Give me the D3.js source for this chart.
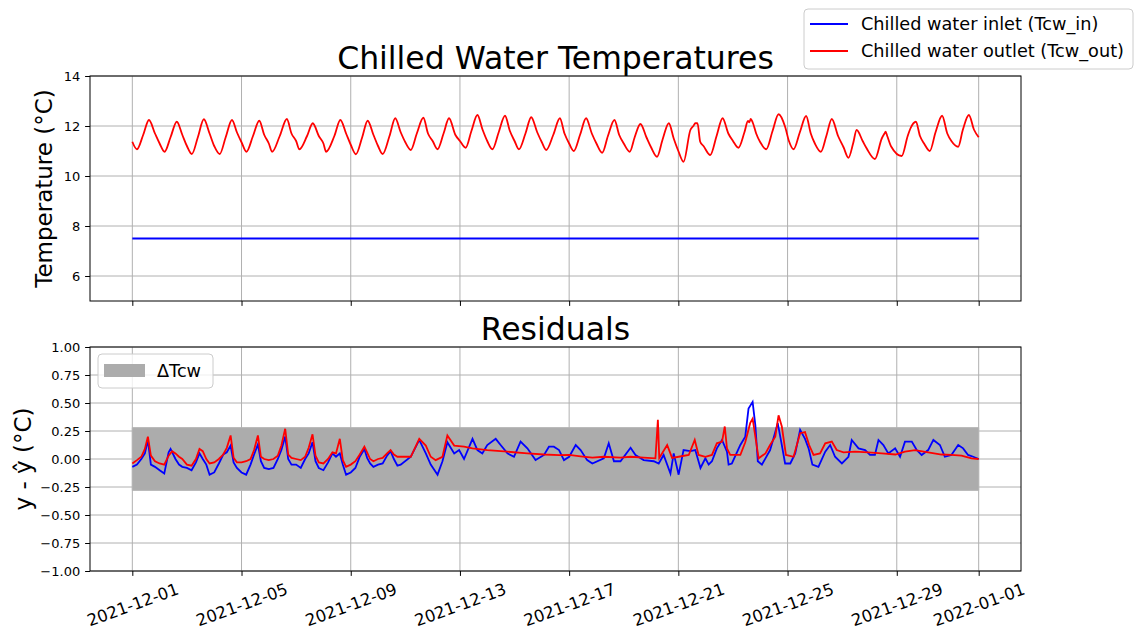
<!DOCTYPE html>
<html><head><meta charset="utf-8">
<script src="https://cdn.jsdelivr.net/npm/d3@7"></script>
<style>body{margin:0;background:#fff;} svg{font-family:"DejaVu Sans",sans-serif;}</style>
</head><body><svg id="c" width="1135" height="630"></svg>
<script>
// ---- data (day offsets from 2021-12-01 00:00 UTC) ----
const tickLabels = ["2021-12-01","2021-12-05","2021-12-09","2021-12-13","2021-12-17","2021-12-21","2021-12-25","2021-12-29","2022-01-01"];
const tempTicks = [6, 8, 10, 12, 14];
const residTicks = [-1, -0.75, -0.5, -0.25, 0, 0.25, 0.5, 0.75, 1];
const deltaTcw = 0.28;
const inletTemps = [[0, 7.5], [31, 7.5]];
const outletTemps = [
[0,11.37],[0.17,11.07],[0.4,11.65],[0.61,12.24],[0.83,11.7],
[1,11.3],[1.18,10.97],[1.4,11.55],[1.63,12.17],[1.83,11.65],
[2,11.2],[2.18,10.88],[2.4,11.55],[2.62,12.27],[2.83,11.7],
[3,11.2],[3.2,10.88],[3.42,11.55],[3.65,12.24],[3.83,11.75],
[4,11.35],[4.18,10.97],[4.42,11.6],[4.65,12.21],[4.83,11.65],
[5,11.3],[5.12,10.97],[5.4,11.6],[5.66,12.28],[5.83,11.7],
[6,11.4],[6.12,11.07],[6.4,11.6],[6.61,12.11],[6.83,11.6],
[7,11.3],[7.1,10.97],[7.4,11.6],[7.62,12.24],[7.83,11.7],
[8,11.25],[8.19,10.87],[8.42,11.55],[8.62,12.21],[8.83,11.65],
[9,11.2],[9.17,10.88],[9.42,11.6],[9.63,12.31],[9.83,11.75],
[10,11.35],[10.2,11.04],[10.42,11.7],[10.66,12.33],[10.83,11.7],
[11,11.4],[11.18,11.07],[11.4,11.7],[11.6,12.31],[11.83,11.65],
[12,11.4],[12.21,11.13],[12.42,11.8],[12.64,12.44],[12.83,11.85],
[13,11.4],[13.19,11.07],[13.42,11.75],[13.65,12.41],[13.83,11.8],
[14,11.4],[14.16,11.07],[14.4,11.7],[14.61,12.35],[14.83,11.75],
[15,11.35],[15.16,11.04],[15.42,11.65],[15.66,12.31],[15.83,11.7],
[16,11.3],[16.17,11.0],[16.4,11.65],[16.62,12.31],[16.83,11.7],
[17,11.3],[17.21,10.93],[17.42,11.6],[17.66,12.24],[17.83,11.65],
[18,11.3],[18.22,10.97],[18.4,11.55],[18.61,12.08],[18.83,11.55],
[19,11.15],[19.22,10.77],[19.42,11.45],[19.65,12.11],[19.83,11.5],
[20,11.0],[20.19,10.57],[20.44,11.84],[20.55,12.0],[20.62,12.11],[20.7,12.11],[20.8,11.37],[20.92,11.2],
[21.17,10.84],[21.4,11.6],[21.62,12.31],[21.83,11.7],
[22,11.4],[22.2,11.13],[22.42,11.75],[22.55,12.2],[22.6,12.15],[22.65,12.28],[22.72,12.15],[22.85,11.7],
[23,11.35],[23.22,11.07],[23.45,11.8],[23.67,12.47],[23.91,11.97],[24.05,11.4],
[24.22,11.07],[24.45,11.75],[24.68,12.4],[24.85,11.7],
[25,11.3],[25.22,10.97],[25.42,11.6],[25.62,12.28],[25.85,11.6],
[26.05,11.15],[26.23,10.73],[26.4,11.3],[26.53,11.84],[26.75,11.4],[26.9,11.1],
[27.2,10.68],[27.45,11.5],[27.55,11.7],[27.59,11.77],[27.65,11.6],[27.8,11.17],
[28.18,10.8],[28.4,11.6],[28.5,11.9],[28.7,12.17],[28.85,11.6],
[29,11.3],[29.21,11.0],[29.42,11.75],[29.66,12.41],[29.85,11.7],
[30,11.4],[30.25,11.17],[30.42,11.85],[30.64,12.44],[30.83,11.85],[31,11.55]
];
const residIn = [
[0,-0.07],[0.17,-0.05],[0.33,0],[0.46,0.05],[0.57,0.17],[0.68,-0.05],[0.83,-0.07],
[1,-0.1],[1.17,-0.13],[1.33,0.06],[1.4,0.09],[1.58,0],[1.71,-0.05],[1.83,-0.07],
[2,-0.08],[2.17,-0.1],[2.33,-0.03],[2.46,0.05],[2.58,0],[2.71,-0.05],[2.83,-0.14],
[3,-0.12],[3.17,-0.04],[3.33,0.04],[3.46,0.06],[3.6,0.12],[3.71,-0.03],[3.83,-0.08],
[4,-0.12],[4.17,-0.14],[4.33,-0.05],[4.46,0.04],[4.6,0.13],[4.71,-0.02],[4.83,-0.08],
[5,-0.09],[5.17,-0.08],[5.33,0],[5.46,0.08],[5.6,0.2],[5.71,0],[5.83,-0.05],
[6,-0.05],[6.17,-0.08],[6.33,0],[6.46,0.05],[6.6,0.15],[6.71,-0.02],[6.83,-0.08],
[7,-0.1],[7.17,-0.03],[7.33,0.05],[7.46,0.02],[7.6,0.05],[7.71,-0.05],[7.83,-0.14],
[8,-0.12],[8.17,-0.08],[8.33,0.02],[8.5,0.09],[8.6,0.01],[8.71,-0.04],[8.83,-0.07],
[9,-0.05],[9.17,-0.04],[9.33,0.03],[9.46,0.07],[9.58,0],[9.71,-0.06],[9.83,-0.05],
[10.2,0.02],[10.51,0.17],[10.75,0.05],[10.93,-0.05],[11.18,-0.14],[11.36,-0.02],[11.54,0.15],[11.79,0.05],[11.97,0.08],[12.15,0],
[12.46,0.18],[12.64,0.08],[12.82,0.05],[13,0.125],[13.31,0.18],[13.49,0.125],[13.74,0.05],[13.98,0.02],[14.22,0.155],[14.47,0.095],
[14.77,-0.01],[15.08,0.036],[15.26,0.11],[15.44,0.11],[15.63,0.08],[15.81,-0.01],[16,0.02],[16.24,0.125],[16.42,0.08],[16.66,-0.01],
[16.85,-0.04],[17.27,0.006],[17.45,0.14],[17.64,-0.02],[17.88,-0.02],[18.25,0.1],[18.43,0.036],[18.73,-0.01],[19.1,-0.02],[19.28,-0.04],
[19.46,0.036],[19.71,-0.13],[19.83,0.05],[20.01,-0.14],[20.19,0.08],[20.44,0.07],[20.62,0.08],[20.81,-0.08],[20.99,0.006],[21.11,-0.05],
[21.23,-0.02],[21.41,0.095],[21.6,0.17],[21.78,0.065],[21.84,-0.05],[21.96,-0.04],[22.27,0.125],[22.45,0.2],[22.57,0.45],[22.72,0.51],
[22.82,0.3],[22.91,-0.02],[23.06,-0.05],[23.19,0.006],[23.36,0.08],[23.48,0.18],[23.64,0.32],[23.77,0.15],[23.91,-0.04],[24.1,-0.04],
[24.28,0.05],[24.46,0.26],[24.64,0.18],[24.77,0.095],[24.91,-0.05],[25.13,-0.07],[25.38,0.065],[25.56,0.125],[25.74,0.02],[25.99,-0.04],
[26.23,0.02],[26.35,0.17],[26.6,0.095],[26.84,0.08],[27.02,0.036],[27.2,0.036],[27.33,0.17],[27.51,0.125],[27.69,0.05],[27.94,0.095],
[28.12,0.02],[28.3,0.155],[28.55,0.155],[28.73,0.08],[28.91,0.036],[29.15,0.08],[29.34,0.17],[29.58,0.125],[29.76,0.02],[30,0.036],
[30.25,0.125],[30.43,0.095],[30.61,0.036],[30.8,0.02],[31,0]
];
const residOut = [
[0,-0.04],[0.17,-0.01],[0.33,0.02],[0.46,0.09],[0.57,0.2],[0.68,0.03],[0.83,-0.02],
[1,-0.04],[1.17,-0.05],[1.33,0.03],[1.46,0.07],[1.58,0.05],[1.71,0.02],[1.83,0],
[2,-0.05],[2.17,-0.06],[2.33,0],[2.46,0.09],[2.58,0.07],[2.71,0],[2.83,-0.04],
[3,-0.03],[3.17,0],[3.33,0.04],[3.46,0.1],[3.6,0.21],[3.71,0.01],[3.83,-0.03],
[4,-0.03],[4.17,-0.02],[4.33,0],[4.46,0.08],[4.6,0.21],[4.71,0.02],[4.83,0],
[5,-0.01],[5.17,0],[5.33,0.03],[5.46,0.12],[5.6,0.27],[5.71,0.04],[5.83,0.01],
[6,0],[6.17,-0.01],[6.33,0.02],[6.46,0.1],[6.6,0.22],[6.71,0.03],[6.83,-0.03],
[7,-0.04],[7.17,0],[7.33,0.06],[7.46,0.05],[7.6,0.18],[7.71,-0.01],[7.83,-0.07],
[8,-0.05],[8.17,-0.02],[8.33,0.04],[8.5,0.11],[8.6,0.06],[8.71,0],[8.83,-0.02],
[9,0],[9.17,0.01],[9.33,0.05],[9.46,0.08],[9.58,0.04],[9.71,0.02],[9.83,0.02],
[10.2,0.02],[10.51,0.18],[10.75,0.12],[10.93,0.02],[11.11,-0.01],[11.36,0.02],[11.54,0.21],[11.79,0.12],[12.15,0.11],[12.46,0.095],
[13,0.08],[13.74,0.065],[14.47,0.05],[15.08,0.04],[15.63,0.035],[16,0.036],[16.42,0.024],[16.85,0.012],[17.27,0.02],[17.88,0.012],
[18.25,0.02],[18.73,0.012],[19.16,0.006],[19.25,0.35],[19.3,0.01],[19.59,0.125],[19.77,0.01],[20.01,0.02],[20.38,0.036],[20.6,0.17],
[20.74,0.036],[20.99,0.02],[21.23,0.036],[21.41,0.14],[21.6,0.155],[21.7,0.29],[21.78,0.095],[21.9,0.036],[22.27,0.036],[22.45,0.15],
[22.63,0.32],[22.72,0.36],[22.82,0.2],[22.94,0.006],[23.19,0.05],[23.36,0.125],[23.55,0.2],[23.67,0.39],[23.79,0.29],[23.94,0.036],
[24.22,0.02],[24.46,0.23],[24.64,0.24],[24.79,0.125],[24.95,0.036],[25.19,0.05],[25.38,0.14],[25.62,0.155],[25.8,0.08],[26.05,0.06],
[26.47,0.065],[26.96,0.06],[27.45,0.05],[27.95,0.04],[28.3,0.065],[28.67,0.08],[29.15,0.06],[29.64,0.04],[30,0.036],[30.37,0.03],
[30.74,0.006],[31,0]
];

// ---- drawing ----
const svg = d3.select("#c");
const t0 = Date.UTC(2021, 11, 1);
const toDate = d => new Date(t0 + d * 864e5);
const tickDates = tickLabels.map(s => new Date(s + "T00:00:00Z"));
const L = 90, R = 1021;
const x = d3.scaleUtc().domain([toDate(-1.55), toDate(32.55)]).range([L, R]);
const top1 = {t: 76, b: 301}, top2 = {t: 347, b: 571};
const yT = d3.scaleLinear().domain([5, 14]).range([top1.b, top1.t]);
const yB = d3.scaleLinear().domain([-1, 1]).range([top2.b, top2.t]);
const gridColor = "#b0b0b0";
const tickLen = 4.9, tickPad = 4.9, tickFont = 13;

function panel(y, yt, box) {
  const g = svg.append("g");
  g.selectAll(".gx").data(tickDates).join("line")
    .attr("x1", d => x(d)).attr("x2", d => x(d)).attr("y1", box.t).attr("y2", box.b)
    .attr("stroke", gridColor).attr("stroke-width", 1);
  g.selectAll(".gy").data(yt).join("line")
    .attr("x1", L).attr("x2", R).attr("y1", d => y(d)).attr("y2", d => y(d))
    .attr("stroke", gridColor).attr("stroke-width", 1);
  return g;
}
function frame(y, yt, box, fmt) {
  const g = svg.append("g");
  const ya = g.append("g").attr("transform", `translate(${L},0)`)
    .call(d3.axisLeft(y).tickValues(yt).tickSize(tickLen).tickPadding(tickPad).tickFormat(fmt));
  ya.select(".domain").remove();
  ya.selectAll("text").attr("font-size", tickFont).attr("font-family", "DejaVu Sans").attr("fill", "#000");
  ya.selectAll("line").attr("stroke", "#000").attr("stroke-width", 1);
  const xa = g.append("g").attr("transform", `translate(0,${box.b})`)
    .call(d3.axisBottom(x).tickValues(tickDates).tickSize(tickLen).tickFormat(""));
  xa.select(".domain").remove();
  xa.selectAll("line").attr("stroke", "#000").attr("stroke-width", 1);
  g.append("rect").attr("x", L).attr("y", box.t).attr("width", R - L).attr("height", box.b - box.t)
    .attr("fill", "none").attr("stroke", "#000").attr("stroke-width", 1);
  return xa;
}

const line = (y, curve) => d3.line().x(d => x(toDate(d[0]))).y(d => y(d[1])).curve(curve);
const lw = 1.8;

// top panel
panel(yT, tempTicks, top1);
svg.append("path").datum(inletTemps).attr("d", line(yT, d3.curveLinear))
  .attr("fill", "none").attr("stroke", "#0000ff").attr("stroke-width", lw);
svg.append("path").datum(outletTemps).attr("d", line(yT, d3.curveMonotoneX))
  .attr("fill", "none").attr("stroke", "#ff0000").attr("stroke-width", lw);
frame(yT, tempTicks, top1, d3.format("d"));

// bottom panel
panel(yB, residTicks, top2);
svg.append("path").datum([[0, deltaTcw], [31, deltaTcw]])
  .attr("d", d3.area().x(d => x(toDate(d[0]))).y0(d => yB(-d[1])).y1(d => yB(d[1])))
  .attr("fill", "#acacac").attr("stroke", "#b4b4b4").attr("stroke-width", 1);
svg.append("path").datum(residIn).attr("d", line(yB, d3.curveLinear))
  .attr("fill", "none").attr("stroke", "#0000ff").attr("stroke-width", lw);
svg.append("path").datum(residOut).attr("d", line(yB, d3.curveLinear))
  .attr("fill", "none").attr("stroke", "#ff0000").attr("stroke-width", lw);
const xa = frame(yB, residTicks, top2, d3.format(".2f"));

// rotated date labels
const rot = 20, xFont = 16.5, labelCentreY = 605;
xa.selectAll(".tick").each(function(d, i) {
  d3.select(this).append("text")
    .attr("font-size", xFont).attr("font-family", "DejaVu Sans").attr("fill", "#000")
    .attr("text-anchor", "middle").attr("dominant-baseline", "central")
    .attr("transform", `translate(0,${labelCentreY - top2.b}) rotate(${-rot})`)
    .text(tickLabels[i]);
});

// titles
svg.append("text").attr("x", (L + R) / 2).attr("y", 69).attr("text-anchor", "middle")
  .attr("font-size", 31.5).text("Chilled Water Temperatures");
svg.append("text").attr("x", (L + R) / 2).attr("y", 340).attr("text-anchor", "middle")
  .attr("font-size", 31.5).text("Residuals");
svg.append("text").attr("transform", `translate(52,${(top1.t + top1.b) / 2}) rotate(-90)`)
  .attr("text-anchor", "middle").attr("font-size", 23).text("Temperature (°C)");
svg.append("text").attr("transform", `translate(31,${(top2.t + top2.b) / 2}) rotate(-90)`)
  .attr("text-anchor", "middle").attr("font-size", 23).text("y - ŷ (°C)");

// legend 1
const lg = svg.append("g");
lg.append("rect").attr("x", 804).attr("y", 9).attr("width", 329).attr("height", 60).attr("rx", 4)
  .attr("fill", "#fff").attr("fill-opacity", 0.8).attr("stroke", "#cccccc").attr("stroke-width", 1);
const items = [["Chilled water inlet (Tcw_in)", "#0000ff"], ["Chilled water outlet (Tcw_out)", "#ff0000"]];
items.forEach((it, i) => {
  const yy = 24 + i * 27;
  lg.append("line").attr("x1", 810).attr("x2", 848).attr("y1", yy).attr("y2", yy)
    .attr("stroke", it[1]).attr("stroke-width", lw);
  lg.append("text").attr("x", 861).attr("y", yy).attr("dominant-baseline", "central")
    .attr("font-size", 17.7).text(it[0]);
});
// legend 2
const lg2 = svg.append("g");
lg2.append("rect").attr("x", 98).attr("y", 354).attr("width", 115).attr("height", 34).attr("rx", 4)
  .attr("fill", "#fff").attr("fill-opacity", 0.8).attr("stroke", "#cccccc").attr("stroke-width", 1);
lg2.append("rect").attr("x", 104).attr("y", 364).attr("width", 41).attr("height", 13).attr("fill", "#acacac");
lg2.append("text").attr("x", 157).attr("y", 371).attr("dominant-baseline", "central")
  .attr("font-size", 17.7).text("ΔTcw");
</script></body></html>
